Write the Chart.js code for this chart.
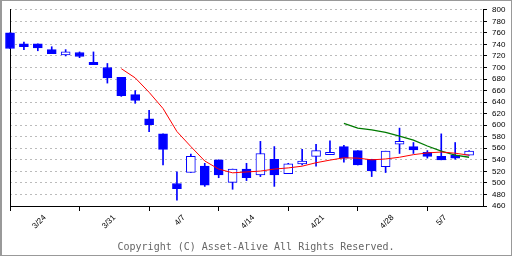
<!DOCTYPE html>
<html>
<head>
<meta charset="utf-8">
<script src="https://cdn.jsdelivr.net/npm/chart.js@4.4.1/dist/chart.umd.min.js"></script>
<style>
  html, body { margin: 0; padding: 0; background: #fff; }
  #wrap { position: relative; width: 512px; height: 256px; overflow: hidden; }
  #chart { position: absolute; left: 0; top: 0; }
  #frame { position: absolute; left: 0; top: 0; width: 512px; height: 256px; box-sizing: border-box;
           border: 1px solid #999; border-left-width: 2px; pointer-events: none; }
  #copy { position: absolute; left: 0; width: 512px; top: 241px; line-height: 10px; text-align: center;
          font: 10px "DejaVu Sans Mono", monospace; color: #666; }
</style>
</head>
<body>
<div id="wrap">
  <canvas id="chart" width="512" height="256"></canvas>
  <div id="copy">Copyright (C) Asset-Alive All Rights Reserved.</div>
  <div id="frame"></div>
</div>
<script>
// daily candles (oldest first)
const opens  = [760, 741, 741, 731, 722, 726, 709, 700, 683, 653, 611, 585, 499, 518, 529, 540, 501,
                524, 514, 541, 516, 533, 546, 549, 563, 556, 541, 528, 567, 563, 553, 546, 548, 548];
const highs  = [760, 744, 741, 736, 731, 727, 727, 707, 683, 660, 626, 585, 519, 550, 534, 540, 524,
                534, 572, 563, 534, 558, 567, 573, 565, 556, 541, 555, 595, 570, 556, 585, 570, 556];
const lows   = [733, 731, 729, 724, 720, 717, 705, 673, 650, 638, 589, 531, 470, 518, 494, 509, 489,
                504, 511, 494, 516, 531, 529, 549, 536, 531, 511, 518, 551, 551, 543, 540, 541, 548];
const closes = [733, 736, 734, 724, 727, 719, 705, 682, 651, 643, 601, 558, 490, 546, 496, 514, 524,
                509, 551, 514, 533, 538, 556, 553, 543, 531, 521, 555, 572, 557, 546, 540, 543, 555];

// moving averages (red = short, green = long)
const maShort = [null, null, null, null, null, null, null, null, 698, 682, 657, 629, 589, 563, 538, 524, 517.5,
                 519, 520.5, 524, 526, 529, 535, 539.5, 543.5, 543, 540, 541.5, 544.5, 549, 552, 553.5, 551.5, 548];
const maLong  = [null, null, null, null, null, null, null, null, null, null, null, null, null, null, null, null, null,
                 null, null, null, null, null, null, null, 603, 595, 592, 587.5, 581, 574, 564, 555, 548, 544.5];

// x axis: week tick marks and date labels (in candle units)
const weekMarks = [0, 5, 10, 15, 20, 25, 30];
const dateLabels = ['3/24', '3/31', '4/7', '4/14', '4/21', '4/28', '5/7'];
const dateLabelAt = [2.5, 7.5, 12.5, 17.5, 22.5, 27.5, 31.3];

const yTicks = { min: 460, max: 800, step: 20 };

const BLUE = '#0000ff';

const bodies = opens.map((o, i) => ({ x: i, y: [o, closes[i]] }));
const wicks = highs.map((h, i) => ({ x: i, y: [lows[i], h] }));
const bodyFill = opens.map((o, i) => closes[i] > o ? '#ffffff' : BLUE);
const linePts = arr => arr.map((v, i) => ({ x: i, y: v }));

const isMark = v => weekMarks.includes(v);

const ctx = document.getElementById('chart').getContext('2d');
new Chart(ctx, {
    type: 'bar',
    data: {
        datasets: [
            {
                type: 'line', data: linePts(maShort), borderColor: '#ff0000', borderWidth: 1,
                pointRadius: 0, tension: 0, order: 0, clip: false
            },
            {
                type: 'line', data: linePts(maLong), borderColor: '#007a00', borderWidth: 1.3,
                pointRadius: 0, tension: 0, order: 0, clip: false
            },
            {
                data: bodies, backgroundColor: bodyFill, borderColor: BLUE, borderWidth: 1,
                borderSkipped: false, barThickness: 9, grouped: false, order: 1, clip: false
            },
            {
                data: wicks, backgroundColor: BLUE, borderWidth: 0,
                barThickness: 1, grouped: false, order: 2, clip: false
            }
        ]
    },
    options: {
        responsive: false,
        animation: false,
        layout: { padding: { left: 10, top: 5, right: 0, bottom: 0 } },
        plugins: { legend: { display: false }, tooltip: { enabled: false } },
        scales: {
            x: {
                type: 'linear', min: 0, max: 34, offset: false,
                afterBuildTicks: s => {
                    const vals = weekMarks.concat(dateLabelAt).sort((a, b) => a - b);
                    s.ticks = vals.map(v => ({ value: v }));
                },
                afterFit: s => { s.height = 50; },
                grid: {
                    offset: false, drawOnChartArea: false, drawTicks: true, tickLength: 5,
                    tickColor: c => (c.tick && isMark(c.tick.value)) ? '#000' : 'rgba(0,0,0,0)'
                },
                border: { color: '#000', width: 1 },
                ticks: {
                    autoSkip: false, minRotation: 45, maxRotation: 45, padding: 2,
                    color: '#000', font: { family: 'Liberation Sans', size: 8 },
                    callback: v => {
                        const k = dateLabelAt.indexOf(v);
                        return k >= 0 ? dateLabels[k] : '';
                    }
                }
            },
            y: {
                position: 'right', min: yTicks.min, max: yTicks.max,
                afterFit: s => { s.width = 29; },
                grid: { color: '#bbbbbb', lineWidth: 1, tickColor: '#000', tickLength: 4 },
                border: { color: '#000', width: 1, dash: [2, 3] },
                ticks: {
                    stepSize: yTicks.step, maxTicksLimit: 40, autoSkip: false, padding: 5, color: '#000',
                    font: { family: 'Liberation Sans', size: 8 }
                }
            },
            yLeft: {
                axis: 'y', position: 'left', min: yTicks.min, max: yTicks.max,
                afterFit: s => { s.width = 0; },
                grid: { drawOnChartArea: false, drawTicks: false },
                border: { color: '#000', width: 1 },
                ticks: { display: false }
            }
        }
    }
});
</script>
</body>
</html>
